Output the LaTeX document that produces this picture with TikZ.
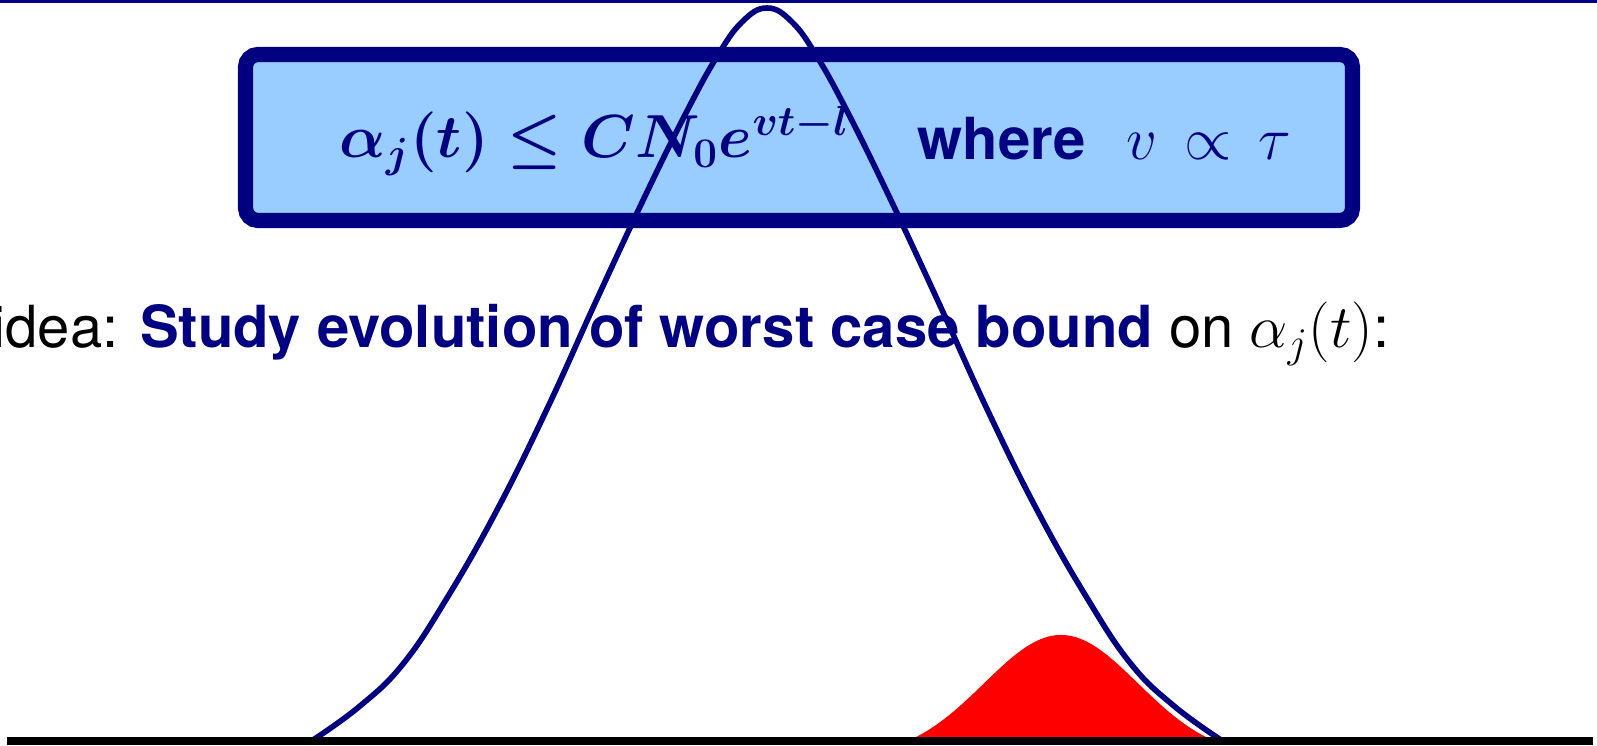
\documentclass[tikz,border=0pt]{standalone}
\usepackage{amsmath, amssymb}
\usepackage{fontspec}
\setmainfont{TeX Gyre Heros}
\usetikzlibrary{positioning, calc}
\definecolor{navy}{RGB}{0,0,128}
\definecolor{boxblue}{RGB}{153,204,255}

\begin{document}
\begin{tikzpicture}[x=0.01cm, y=-0.01cm,
		txt/.style={inner sep=0pt, anchor=base west, font=\fontsize{16.5}{20}\selectfont},
		boxtxt/.style={txt, text=navy}]
	\useasboundingbox (0,0) rectangle (1597,746);
	
	% Riga in alto
	\draw[navy, line width=0.85pt] (0,1.5) -- (1597,1.5);
	
	% Riquadro con la stima
	\draw[navy, fill=boxblue, line width=4.3pt, rounded corners=0.125cm] (245.5,54.5) rectangle (1352.5,220.5);
	\node[boxtxt] (bound) at (339,158) {$\boldsymbol{\alpha_j(t)\leq CN_0e^{vt-l}}$};
	\node[boxtxt] (where) at (917,160) {\textbf{where}};
	\node[boxtxt] (prop) at (1126,160) {$v\,\propto\,\tau$};
	
	% Testo
	\node[txt] (idea) at (-8,348) {idea: \textcolor{navy}{\textbf{Study evolution of worst case bound}} on $\alpha_j(t)$:};
	
	% Campana rossa
	\fill[red] plot[domain=-1.515:1.515, samples=61] ({1061+100*\x}, {740-123*(exp(-(\x)^2/1.1858)-0.146)}) -- cycle;
	
	% Campana blu (stima peggiore)
	\draw[navy, line width=1.6pt] plot[smooth, tension=0.7] coordinates {(313,740) (360,706) (403,664) (447,598) (497,510) (547,409) (597,299) (647,192) (687,111) (717,56.6) (742,22) (767,8) (792,22) (817,56.6) (847,111) (887,192) (937,299) (987,409) (1037,510) (1087,598) (1131,664) (1174,706) (1221,740)};
	
	% Asse
	\draw[line width=2.3pt] (7,741) -- (1593,741);
\end{tikzpicture}
\end{document}
